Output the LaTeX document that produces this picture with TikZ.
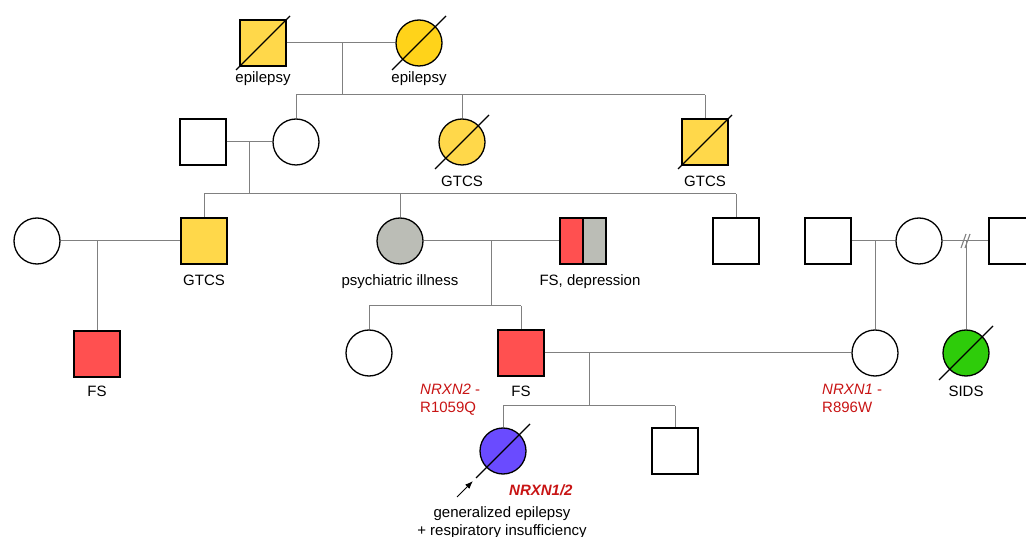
\documentclass[tikz,border=0pt]{standalone}
\usepackage{fontspec}
\setmainfont{Liberation Sans}
\usetikzlibrary{arrows.meta}
\definecolor{yelsq}{HTML}{FFD84A}
\definecolor{yelci}{HTML}{FFD31A}
\definecolor{fsred}{HTML}{FF5050}
\definecolor{psygray}{HTML}{BBBDB6}
\definecolor{sidsgreen}{HTML}{2ECC0A}
\definecolor{probpurple}{HTML}{6A4BFF}
\definecolor{genered}{HTML}{C81414}
\definecolor{linegray}{HTML}{808080}
\begin{document}
\begin{tikzpicture}[x=1pt,y=-1pt,
  ind/.style={draw=black,line width=1.3pt,minimum size=46pt,inner sep=0pt},
  sq/.style={ind,rectangle},
  ci/.style={ind,circle},
  ln/.style={draw=linegray,line width=1pt},
  lab/.style={font=\fontsize{15}{18}\selectfont,anchor=base,inner sep=0pt},
  gene/.style={lab,text=genered,font=\fontsize{15}{18}\selectfont\itshape,anchor=base west},
  dead/.style={draw=black,line width=1.3pt}]
\useasboundingbox (0,0) rectangle (1026,537);
% Generation I
\node[sq,fill=yelsq] (g1a) at (263,43) {};
\node[ci,fill=yelci] (g1b) at (419,43) {};
\draw[dead] ([shift={(-27,27)}]g1a.center) -- ([shift={(27,-27)}]g1a.center);
\draw[dead] ([shift={(-27,27)}]g1b.center) -- ([shift={(27,-27)}]g1b.center);
\node[lab] (l1a) at (263,83) {epilepsy};
\node[lab] (l1b) at (419,83) {epilepsy};
\draw[ln] (g1a.east) -- (g1b.west);
\coordinate (c1) at (342,43);
\coordinate (s1) at (342,95);
\coordinate (s1l) at (296,95);
\coordinate (s1r) at (705,95);
\draw[ln] (c1) -- (s1);
\draw[ln] (s1l) -- (s1r);
% Generation II
\node[sq,fill=white] (g2a) at (203,142) {};
\node[ci,fill=white] (g2b) at (296,142) {};
\node[ci,fill=yelsq] (g2c) at (462,142) {};
\node[sq,fill=yelsq] (g2d) at (705,142) {};
\draw[dead] ([shift={(-27,27)}]g2c.center) -- ([shift={(27,-27)}]g2c.center);
\draw[dead] ([shift={(-27,27)}]g2d.center) -- ([shift={(27,-27)}]g2d.center);
\node[lab] (l2c) at (462,187) {GTCS};
\node[lab] (l2d) at (705,187) {GTCS};
\draw[ln] (s1l) -- (g2b.north);
\coordinate (s1c) at (462,95);
\draw[ln] (s1c) -- (g2c.north);
\draw[ln] (s1r) -- (g2d.north);
\draw[ln] (g2a.east) -- (g2b.west);
\coordinate (c2) at (249,142);
\coordinate (s2) at (249,194);
\coordinate (s2l) at (204,194);
\coordinate (s2m) at (400,194);
\coordinate (s2r) at (736,194);
\draw[ln] (c2) -- (s2);
\draw[ln] (s2l) -- (s2r);
% Generation III
\node[ci,fill=white] (g3a) at (37,241) {};
\node[sq,fill=yelsq] (g3b) at (204,241) {};
\node[ci,fill=psygray] (g3c) at (400,241) {};
\node[sq,path picture={
  \fill[fsred] (path picture bounding box.north west) rectangle (path picture bounding box.south);
  \fill[psygray] (path picture bounding box.north) rectangle (path picture bounding box.south east);}] (g3d) at (583,241) {};
\draw[black,line width=1.3pt] (g3d.north) -- (g3d.south);
\node[sq,fill=white] (g3e) at (736,241) {};
\node[sq,fill=white] (g3f) at (828,241) {};
\node[ci,fill=white] (g3g) at (919,241) {};
\node[sq,fill=white] (g3h) at (1012,241) {};
\node[lab] (l3b) at (204,286) {GTCS};
\node[lab] (l3c) at (400,286) {psychiatric illness};
\node[lab] (l3d) at (590,286) {FS, depression};
\draw[ln] (s2l) -- (g3b.north);
\draw[ln] (s2m) -- (g3c.north);
\draw[ln] (s2r) -- (g3e.north);
\draw[ln] (g3a.east) -- (g3b.west);
\draw[ln] (g3c.east) -- (g3d.west);
\draw[ln] (g3f.east) -- (g3g.west);
\draw[ln] (g3g.east) -- (g3h.west);
\coordinate (d1a) at (961,248); \coordinate (d1b) at (966,234);
\coordinate (d2a) at (965,248); \coordinate (d2b) at (970,234);
\draw[linegray,line width=1.1pt] (d1a) -- (d1b);
\draw[linegray,line width=1.1pt] (d2a) -- (d2b);
% Generation IV
\node[sq,fill=fsred] (g4a) at (97,354) {};
\node[ci,fill=white] (g4b) at (369,353) {};
\node[sq,fill=fsred] (g4c) at (521,353) {};
\node[ci,fill=white] (g4d) at (875,353) {};
\node[ci,fill=sidsgreen] (g4e) at (966,353) {};
\draw[dead] ([shift={(-27,27)}]g4e.center) -- ([shift={(27,-27)}]g4e.center);
\node[lab] (l4a) at (97,396) {FS};
\node[lab] (l4c) at (521,396) {FS};
\node[lab] (l4e) at (966,396) {SIDS};
\node[gene] (n2a) at (420,395) {NRXN2\upshape\ -};
\node[gene,font=\fontsize{15}{18}\selectfont] (n2b) at (420,413) {R1059Q};
\node[gene] (n1a) at (822,395) {NRXN1\upshape\ -};
\node[gene,font=\fontsize{15}{18}\selectfont] (n1b) at (822,413) {R896W};
\coordinate (c3a) at (97,241);
\draw[ln] (c3a) -- (g4a.north);
\coordinate (c3b) at (491,241);
\coordinate (s3) at (491,306);
\coordinate (s3l) at (369,306);
\coordinate (s3r) at (521,306);
\draw[ln] (c3b) -- (s3);
\draw[ln] (s3l) -- (s3r);
\draw[ln] (s3l) -- (g4b.north);
\draw[ln] (s3r) -- (g4c.north);
\coordinate (c3c) at (875,241);
\draw[ln] (c3c) -- (g4d.north);
\coordinate (c3d) at (966,241);
\draw[ln] (c3d) -- (g4e.north);
\draw[ln] (g4c.east) -- (g4d.west);
\coordinate (c4) at (589,353);
\coordinate (s4) at (589,406);
\coordinate (s4l) at (503,406);
\coordinate (s4r) at (675,406);
\draw[ln] (c4) -- (s4);
\draw[ln] (s4l) -- (s4r);
% Generation V
\node[ci,fill=probpurple] (g5a) at (503,451) {};
\node[sq,fill=white] (g5b) at (675,451) {};
\draw[dead] ([shift={(-27,27)}]g5a.center) -- ([shift={(27,-27)}]g5a.center);
\draw[ln] (s4l) -- (g5a.north);
\draw[ln] (s4r) -- (g5b.north);
\coordinate (arA) at (457,497);
\coordinate (arB) at (473,481);
\draw[black,line width=1pt,-{Latex[length=8pt,width=6pt]}] (arA) -- (arB);
\node[lab,text=genered,font=\fontsize{15}{18}\selectfont\bfseries\itshape,anchor=base west] (n12) at (509,495) {NRXN1/2};
\node[lab] (l5a) at (502,517) {generalized epilepsy};
\node[lab] (l5b) at (502,535) {+ respiratory insufficiency};
\end{tikzpicture}
\end{document}
